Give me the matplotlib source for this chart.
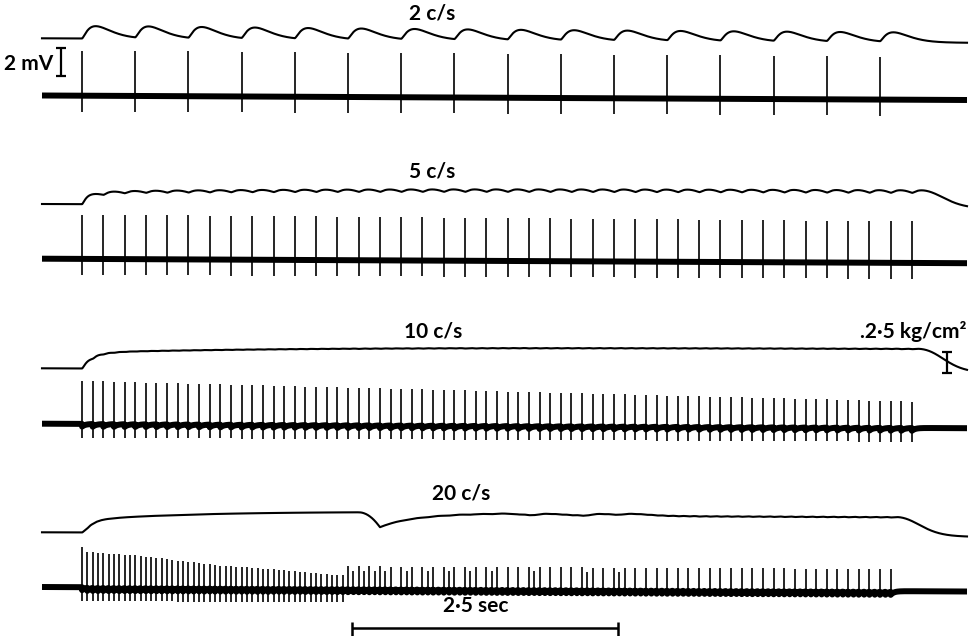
import numpy as np
import matplotlib.pyplot as plt

plt.rcParams['font.family'] = ['Lato', 'DejaVu Sans']

# ---- values ----
labels = ['2 c/s', '5 c/s', '10 c/s', '20 c/s']
rates = [2, 5, 10, 20]            # stimulation frequency, c/s
n_stim = [16, 40, 79, 153]        # stimuli in each train

# muscle action potentials (mV)
ap_first = [3.25, 3.2, 3.1]
ap_last = [3.1, 3.0, 1.9]
ap_down = [1.15, 1.15, 1.0, 1.0]
ap_after = [0.0, 0.0, 0.2, 0.22]  # dip of the trace after each shock

# 20 c/s: first 50 responses, then every other shock (plus a few extra)
ap20_early = [2.90, 2.56, 2.52, 2.49, 2.46, 2.44, 2.42, 2.40, 2.37, 2.35,
              2.32, 2.28, 2.23, 2.19, 2.14, 2.10, 2.05, 2.01, 1.96, 1.92,
              1.87, 1.83, 1.78, 1.74, 1.69, 1.65, 1.60, 1.58, 1.55, 1.53,
              1.50, 1.48, 1.45, 1.43, 1.40, 1.38, 1.35, 1.33, 1.30, 1.26,
              1.23, 1.19, 1.16, 1.12, 1.08, 1.05, 1.01, 0.99, 0.96, 0.94]
ap20_tall = 1.6
ap20_short = 1.3
ap20_extra = [51, 53, 55, 57, 61, 65, 69, 73, 77, 85, 95, 101]

# tension (kg/cm2)
twitch = [0.167, 0.19, 0.167, 0.095]
t_max = [0.71, 0.19, 0.214, 0.155]
creep = [-0.25, 0.45, 0.5, 0.8]
creep_tau = [4.0, 3.0, 2.5, 1.2]
twitch_peak = 0.13                # s
twitch_order = 1.5
dip20 = [2.6, 2.8, 0.69, 0.35]    # start, bottom, depth, recovery (s)

# ---- layout ----
px_s = 106.4      # paper speed, px per second
x0 = 82           # first shock, px
mv_px = 13.85
kg_px = 84
tens_y = [38.3, 204, 368.3, 532.3]
ap_y = [95.5, 258.7, 423.7, 587]
label_x = [432, 432, 433, 461]
label_y = [19, 177, 338, 499]
tilt = 4.5


def sec(px):
    return (px - x0) / px_s


fig = plt.figure(figsize=(9.75, 6.36), dpi=100)
ax = fig.add_axes([0, 0, 1, 1])
ax.set_xlim(sec(0), sec(975))
ax.set_ylim(636, 0)
ax.axis('off')

t = np.linspace(sec(42), sec(967), 6000)


def skew(tt):
    return tilt * (tt - t[0]) / (t[-1] - t[0])


for p in range(4):
    n = n_stim[p]
    stim = np.arange(n) / rates[p]
    if p < 3:
        h = np.linspace(ap_first[p], ap_last[p], n)
        down = np.full(n, ap_down[p])
    else:
        h = np.zeros(n)
        h[:50] = ap20_early
        h[50::2] = ap20_tall
        h[ap20_extra] = ap20_short
        down = np.where(np.arange(n) < 50, ap_down[p], 0.0)
    fired = h > 0

    # electrical record
    u = np.clip(t[:, None] - stim[None, :], 0, None)
    after = np.where(u > 0, np.exp(-u / 0.03), 0).sum(axis=1)
    base = ap_y[p] + skew(t) + mv_px * ap_after[p] * after
    ax.plot(t, base, color='black', lw=4.3, solid_capstyle='butt')
    yb = ap_y[p] + skew(stim)
    ax.vlines(stim[fired], yb[fired] + mv_px * down[fired],
              yb[fired] - mv_px * h[fired], color='black', lw=1.2)

    # tension record
    r = u / twitch_peak
    k = r ** twitch_order * np.exp(twitch_order * (1 - r))
    S = twitch[p] * (k @ fired.astype(float))
    T = t_max[p] * (1 - np.exp(-S / t_max[p]))
    T *= 1 + creep[p] * (1 - np.exp(-np.clip(t, 0, None) / creep_tau[p]))
    if p == 3:
        ds, dm, depth, rec = dip20
        x = np.clip((t - ds) / (dm - ds), 0, 1)
        T *= 1 - np.where(t < dm, depth * x ** 2,
                          depth * np.exp(-(t - dm) / rec))
    ax.plot(t, tens_y[p] + skew(t) - kg_px * T, color='black', lw=1.5)

    ax.text(sec(label_x[p]), label_y[p], labels[p], ha='center',
            va='baseline', fontsize=15, fontweight='bold')

# 2 mV calibration
xb = sec(61)
ax.vlines(xb, 48.3, 48.3 + 2 * mv_px, color='black', lw=1.6)
ax.hlines([48.3, 48.3 + 2 * mv_px], xb - 0.045, xb + 0.045, color='black', lw=1.6)
ax.text(sec(53), 69.5, '2 mV', ha='right', va='baseline', fontsize=15,
        fontweight='bold')

# 0.25 kg/cm2 calibration
xk = sec(947)
yk = tens_y[2] + skew(xk)
ax.vlines(xk, yk - 0.25 * kg_px, yk, color='black', lw=1.6)
ax.hlines([yk - 0.25 * kg_px, yk], xk - 0.045, xk + 0.045, color='black', lw=1.6)
ax.text(sec(966), 338, '.2·5 kg/cm²', ha='right', va='baseline', fontsize=15,
        fontweight='bold')

# 2.5 sec time bar
xs = sec(351.5)
ax.hlines(628.3, xs, xs + 2.5, color='black', lw=1.8)
ax.vlines([xs, xs + 2.5], 621.5, 636, color='black', lw=1.8)
ax.text(xs + 1.17, 611.5, '2·5 sec', ha='center', va='baseline', fontsize=15,
        fontweight='bold')

fig.savefig('out.png', dpi=100)
